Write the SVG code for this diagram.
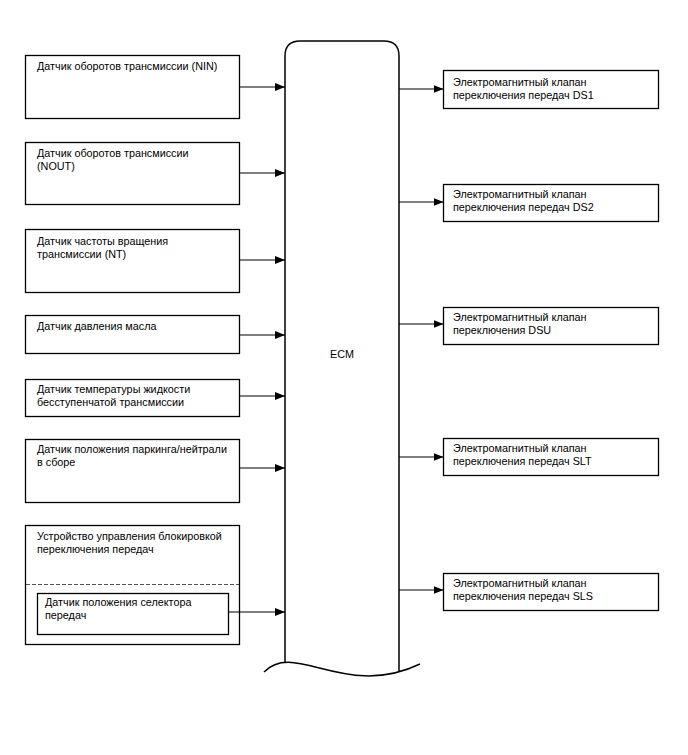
<svg xmlns="http://www.w3.org/2000/svg" width="688" height="755" viewBox="0 0 688 755">
<defs>
<marker id="ah" viewBox="0 0 10 8" refX="10" refY="4" markerWidth="10" markerHeight="8" markerUnits="userSpaceOnUse" orient="auto">
<path d="M0,0 L10,4 L0,8 Z" fill="#000"/>
</marker>
</defs>
<style>
.box{fill:#fff;stroke:#000;stroke-width:1.3}
.ecm{fill:none;stroke:#000;stroke-width:1.5}
.t{font-family:"Liberation Sans",Arial,sans-serif;font-size:10.8px;fill:#000}
.c{stroke:#000;stroke-width:1.2;fill:none;marker-end:url(#ah)}
.dash{stroke:#555;stroke-width:1;stroke-dasharray:4,2;fill:none}
</style>
<rect width="688" height="755" fill="#fff"/>

<g id="ecm">
<path class="ecm" d="M285,662 V56 Q285,41 300,41 H384 Q399,41 399,56 V672"/>
<path class="ecm" d="M264,672 C295,640 345,700 420,664"/>
<text class="t" x="342" y="358" text-anchor="middle">ECM</text>
</g>

<g id="nin">
<rect class="box" x="25.5" y="55.5" width="214" height="63"/>
<text class="t" x="37" y="70">Датчик оборотов трансмиссии (NIN)</text>
</g>
<g id="nout">
<rect class="box" x="25.5" y="142.5" width="214" height="62"/>
<text class="t" x="37" y="157">Датчик оборотов трансмиссии</text>
<text class="t" x="37" y="170">(NOUT)</text>
</g>
<g id="nt">
<rect class="box" x="25.5" y="229.5" width="214" height="63"/>
<text class="t" x="37" y="245">Датчик частоты вращения</text>
<text class="t" x="37" y="258">трансмиссии (NT)</text>
</g>
<g id="oil">
<rect class="box" x="25.5" y="315.5" width="214" height="38"/>
<text class="t" x="37" y="330">Датчик давления масла</text>
</g>
<g id="temp">
<rect class="box" x="25.5" y="379.5" width="214" height="37"/>
<text class="t" x="37" y="393">Датчик температуры жидкости</text>
<text class="t" x="37" y="406">бесступенчатой трансмиссии</text>
</g>
<g id="pn">
<rect class="box" x="25.5" y="439.5" width="214" height="63"/>
<text class="t" x="37" y="453">Датчик положения паркинга/нейтрали</text>
<text class="t" x="37" y="466">в сборе</text>
</g>
<g id="shiftlock">
<rect class="box" x="25.5" y="525.5" width="214" height="119"/>
<text class="t" x="37" y="540">Устройство управления блокировкой</text>
<text class="t" x="37" y="553">переключения передач</text>
<line class="dash" x1="26" y1="584.5" x2="239" y2="584.5"/>
</g>
<g id="selector">
<rect class="box" x="37.5" y="593.5" width="191" height="41"/>
<text class="t" x="45" y="606">Датчик положения селектора</text>
<text class="t" x="45" y="619">передач</text>
</g>

<g id="ds1">
<rect class="box" x="443.5" y="70.5" width="215" height="38"/>
<text class="t" x="453" y="86">Электромагнитный клапан</text>
<text class="t" x="453" y="99">переключения передач DS1</text>
</g>
<g id="ds2">
<rect class="box" x="443.5" y="184.5" width="215" height="37"/>
<text class="t" x="453" y="198">Электромагнитный клапан</text>
<text class="t" x="453" y="211">переключения передач DS2</text>
</g>
<g id="dsu">
<rect class="box" x="443.5" y="307.5" width="215" height="37"/>
<text class="t" x="453" y="321">Электромагнитный клапан</text>
<text class="t" x="453" y="334">переключения DSU</text>
</g>
<g id="slt">
<rect class="box" x="443.5" y="438.5" width="215" height="37"/>
<text class="t" x="453" y="452">Электромагнитный клапан</text>
<text class="t" x="453" y="465">переключения передач SLT</text>
</g>
<g id="sls">
<rect class="box" x="443.5" y="573.5" width="215" height="37"/>
<text class="t" x="453" y="587">Электромагнитный клапан</text>
<text class="t" x="453" y="600">переключения передач SLS</text>
</g>

<g id="connectors">
<line class="c" x1="239.5" y1="87" x2="285" y2="87"/>
<line class="c" x1="239.5" y1="173" x2="285" y2="173"/>
<line class="c" x1="239.5" y1="260" x2="285" y2="260"/>
<line class="c" x1="239.5" y1="335" x2="285" y2="335"/>
<line class="c" x1="239.5" y1="396" x2="285" y2="396"/>
<line class="c" x1="239.5" y1="468" x2="285" y2="468"/>
<line class="c" x1="228.5" y1="612" x2="285" y2="612"/>
<line class="c" x1="399" y1="89" x2="443.5" y2="89"/>
<line class="c" x1="399" y1="202" x2="443.5" y2="202"/>
<line class="c" x1="399" y1="324" x2="443.5" y2="324"/>
<line class="c" x1="399" y1="457" x2="443.5" y2="457"/>
<line class="c" x1="399" y1="590" x2="443.5" y2="590"/>
</g>
</svg>
